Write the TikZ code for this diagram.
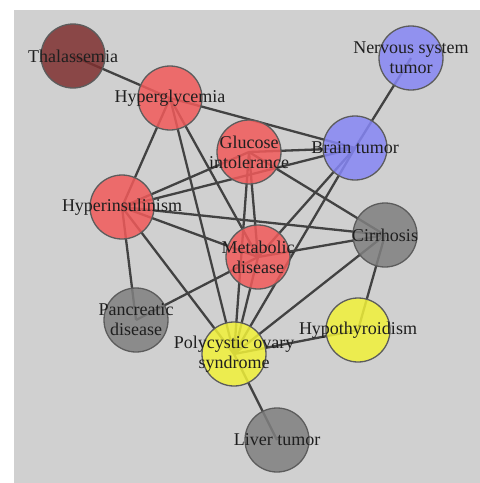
\documentclass[tikz,border=0pt]{standalone}
\usepackage{fontspec}
\setmainfont{Liberation Serif}
\usetikzlibrary{
    positioning,
    backgrounds
}
\definecolor{panelgray}{RGB}{208,208,208}
\definecolor{edgegray}{RGB}{66,66,66}
\definecolor{rimgray}{RGB}{92,92,92}
\definecolor{metred}{RGB}{241,90,90}
\definecolor{thalred}{RGB}{126,48,48}
\definecolor{tumorblue}{RGB}{134,134,245}
\definecolor{othergray}{RGB}{128,128,128}
\definecolor{endoyellow}{RGB}{241,241,57}
\tikzset{
    % --- Disease circle (label drawn separately on top) ---
    disease/.style = {
        circle, draw=rimgray, line width=1.3pt,
        minimum size=64pt, inner sep=0pt,
        fill opacity=0.85
    },
    % --- Disease name ---
    tag/.style = {
        font=\fontsize{18}{20}\selectfont, align=center,
        text=black!88, inner sep=0pt
    },
    % --- Co-occurrence link ---
    link/.style = {
        draw=edgegray, line width=2.3pt
    }
}
\begin{document}
\begin{tikzpicture}[x=1pt, y=-1pt]
\useasboundingbox (0,0) rectangle (480,483);

% ---------------------------------------------------------
% Disease circles
% ---------------------------------------------------------
\node[disease, fill=thalred]    (thal)  at (73,56)   {};
\node[disease, fill=metred]     (hglyc) at (170,98)  {};
\node[disease, fill=metred]     (gluc)  at (249,152) {};
\node[disease, fill=tumorblue]  (brain) at (355,148) {};
\node[disease, fill=tumorblue]  (nerv)  at (411,58)  {};
\node[disease, fill=metred]     (hins)  at (122,207) {};
\node[disease, fill=metred]     (metab) at (258,257) {};
\node[disease, fill=othergray]  (cirr)  at (385,235) {};
\node[disease, fill=othergray]  (panc)  at (136,320) {};
\node[disease, fill=endoyellow] (pcos)  at (234,354) {};
\node[disease, fill=endoyellow] (hypo)  at (358,330) {};
\node[disease, fill=othergray]  (liver) at (277,440) {};

% Names
\node[tag] (thalT)  at (thal)  {Thalassemia};
\node[tag] (hglycT) at (hglyc) {Hyperglycemia};
\node[tag] (glucT)  at (gluc)  {Glucose\\intolerance};
\node[tag] (brainT) at (brain) {Brain tumor};
\node[tag] (nervT)  at (nerv)  {Nervous system\\tumor};
\node[tag] (hinsT)  at (hins)  {Hyperinsulinism};
\node[tag] (metabT) at (metab) {Metabolic\\disease};
\node[tag] (cirrT)  at (cirr)  {Cirrhosis};
\node[tag] (pancT)  at (panc)  {Pancreatic\\disease};
\node[tag] (pcosT)  at (pcos)  {Polycystic ovary\\syndrome};
\node[tag] (hypoT)  at (hypo)  {Hypothyroidism};
\node[tag] (liverT) at (liver) {Liver tumor};

% ---------------------------------------------------------
% Panel and links (behind the circles)
% ---------------------------------------------------------
\begin{scope}[on background layer]
\fill[panelgray] (14,10) rectangle (480,483);
\foreach \a/\b in {thal/hglyc, hglyc/brain, hglyc/hins, hglyc/metab,
                   hglyc/pcos, nerv/brain, gluc/brain, gluc/hins,
                   gluc/metab, gluc/pcos, gluc/cirr, brain/hins,
                   brain/metab, brain/pcos, hins/cirr, hins/metab,
                   hins/panc, hins/pcos, metab/cirr, metab/panc,
                   metab/pcos, cirr/pcos, cirr/hypo, pcos/hypo,
                   pcos/liver} {
    \draw[link] (\a.center) -- (\b.center);
}
\end{scope}

\end{tikzpicture}
\end{document}
